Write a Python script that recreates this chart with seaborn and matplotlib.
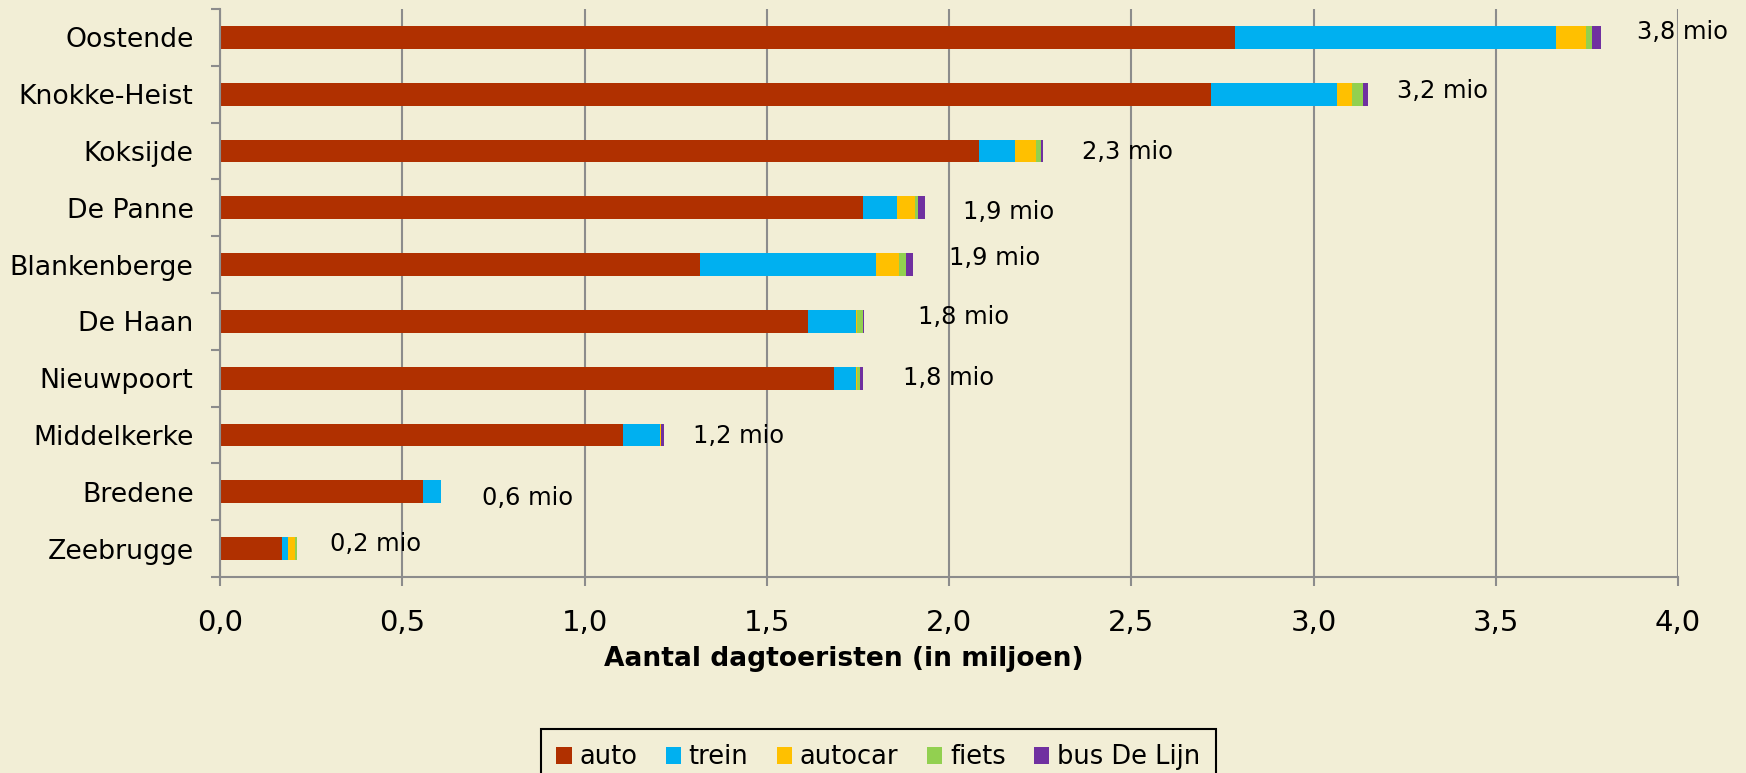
import numpy as np
import pandas as pd
import seaborn as sns
import matplotlib.pyplot as plt
from matplotlib.ticker import FixedLocator

# dagtoeristen per badplaats en vervoerswijze (in miljoen)
places = ['Oostende', 'Knokke-Heist', 'Koksijde', 'De Panne', 'Blankenberge',
          'De Haan', 'Nieuwpoort', 'Middelkerke', 'Bredene', 'Zeebrugge']
auto = [2.785, 2.718, 2.082, 1.763, 1.317, 1.613, 1.684, 1.105, 0.558, 0.170]
trein = [0.879, 0.346, 0.099, 0.094, 0.483, 0.132, 0.061, 0.103, 0.048, 0.017]
autocar = [0.083, 0.041, 0.059, 0.049, 0.064, 0.003, 0.002, 0.001, 0.000, 0.018]
fiets = [0.017, 0.032, 0.012, 0.009, 0.018, 0.016, 0.008, 0.002, 0.000, 0.005]
bus = [0.024, 0.013, 0.007, 0.018, 0.020, 0.004, 0.009, 0.006, 0.000, 0.000]
total_labels = ['3,8 mio', '3,2 mio', '2,3 mio', '1,9 mio', '1,9 mio',
                '1,8 mio', '1,8 mio', '1,2 mio', '0,6 mio', '0,2 mio']

x_ticks = [0.0, 0.5, 1.0, 1.5, 2.0, 2.5, 3.0, 3.5, 4.0]
x_ticklabels = ['0,0', '0,5', '1,0', '1,5', '2,0', '2,5', '3,0', '3,5', '4,0']

# manual placement of the total labels (as in the original Excel chart)
label_dx = [0.10, 0.08, 0.106, 0.105, 0.097, 0.146, 0.11, 0.08, 0.112, 0.091]
label_dy = [-5, -3, 1, 4, -7, -4, 0, 1, 6, -5]  # pixels, positive = down

modes = ['auto', 'trein', 'autocar', 'fiets', 'bus De Lijn']
colors = {'auto': '#B03000', 'trein': '#00B0F0', 'autocar': '#FFC000',
          'fiets': '#92D050', 'bus De Lijn': '#7030A0'}
bg = '#F2EED6'
grey = '#8C8C8C'

df = pd.DataFrame({'plaats': places, 'auto': auto, 'trein': trein,
                   'autocar': autocar, 'fiets': fiets, 'bus De Lijn': bus})
cum = df[modes].cumsum(axis=1)
cum['plaats'] = df['plaats']

fig, ax = plt.subplots(figsize=(17.46, 7.73), dpi=100)
fig.patch.set_facecolor(bg)
ax.set_facecolor(bg)
fig.subplots_adjust(left=220 / 1746, right=1678 / 1746,
                    top=1 - 9 / 773, bottom=1 - 577 / 773)

# stacked bars: draw cumulative totals from the back to the front
for mode in reversed(modes):
    sns.barplot(data=cum, x=mode, y='plaats', color=colors[mode], orient='h',
                width=0.4, saturation=1, errorbar=None, linewidth=0,
                label=mode, ax=ax)
if ax.get_legend() is not None:
    ax.get_legend().remove()

totals = cum['bus De Lijn'].values
for i, txt in enumerate(total_labels):
    ax.annotate(txt, xy=(totals[i] + label_dx[i], i),
                xytext=(0, -label_dy[i] * 0.72), textcoords='offset points',
                ha='left', va='center', fontsize=17.4, color='black')

ax.set_xlim(0, 4.0)
ax.set_ylim(9.5, -0.5)
ax.set_xticks(x_ticks)
ax.set_xticklabels(x_ticklabels)
ax.set_ylabel('')
ax.set_xlabel('Aantal dagtoeristen (in miljoen)', fontsize=19.1,
              fontweight='bold')
ax.xaxis.set_label_coords(0.428, -0.122)

ax.xaxis.grid(True, color=grey, linewidth=1.5)
ax.yaxis.grid(False)
ax.set_axisbelow(True)
for side in ['top', 'right']:
    ax.spines[side].set_visible(False)
for side in ['left', 'bottom']:
    ax.spines[side].set_color(grey)
    ax.spines[side].set_linewidth(1.5)

ax.yaxis.set_minor_locator(FixedLocator(np.arange(-0.5, 10, 1)))
ax.tick_params(axis='y', which='major', length=0, pad=19, labelsize=19.3)
ax.tick_params(axis='y', which='minor', length=6.5, width=1.5, color=grey,
               direction='out')
ax.tick_params(axis='x', which='major', length=6.5, width=1.5, color=grey,
               direction='out', pad=16.5, labelsize=21)

handles, labels = ax.get_legend_handles_labels()
lookup = dict(zip(labels, handles))
leg = fig.legend([lookup[m] for m in modes], modes, loc='upper center',
                 bbox_to_anchor=(0.503, 1 - 729 / 773), ncol=5, fontsize=18.5,
                 frameon=True, fancybox=False, edgecolor='black',
                 facecolor=bg, framealpha=1, handlelength=0.6,
                 handleheight=0.65, handletextpad=0.3, columnspacing=1.1,
                 borderpad=0.6, borderaxespad=0)
leg.get_frame().set_linewidth(1.5)

fig.savefig('out.png', dpi=100, facecolor=bg)
